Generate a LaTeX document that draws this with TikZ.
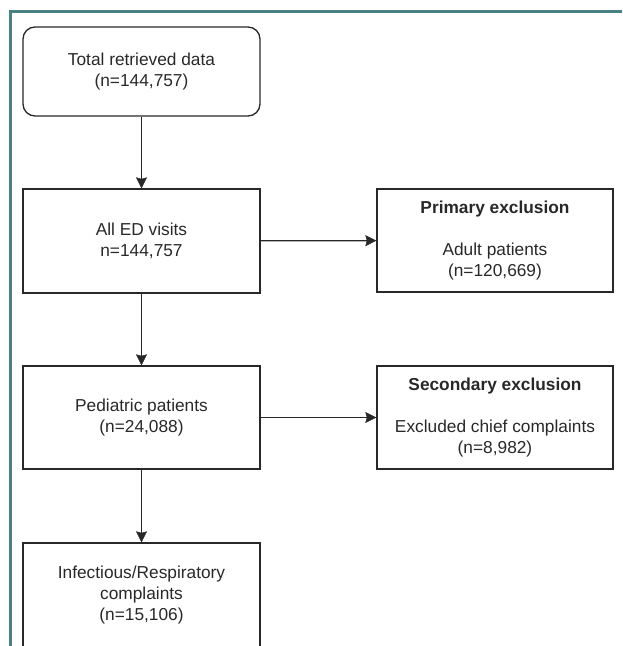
\documentclass[tikz,border=0pt]{standalone}
\usepackage{fontspec}
\setmainfont{Liberation Sans}
\usetikzlibrary{arrows.meta}
\definecolor{frameteal}{RGB}{72,130,130}
\definecolor{ink}{RGB}{40,40,40}
\begin{document}
\begin{tikzpicture}[x=1pt,y=-1pt,
  box/.style={draw=ink,line width=1.3pt,text=ink,align=center,
    font=\fontsize{17.3}{21}\selectfont,inner sep=0pt,
    minimum width=237pt,minimum height=104pt},
  arr/.style={draw=ink,line width=1.3pt,-{Stealth[length=11pt,width=11pt,inset=1.5pt,line width=0.5pt]}}]
\useasboundingbox (0,0) rectangle (622,646);
\draw[frameteal,line width=3pt] (10.5,646) -- (10.5,11.5) -- (622,11.5);
\node[box,rounded corners=12pt,minimum height=89pt] (top) at (141.5,71.5) {Total retrieved data\\(n=144,757)};
\node[box] (ed) at (141.5,241) {All ED visits\\n=144,757};
\node[box,minimum height=103pt] (ped) at (141.5,417.5) {Pediatric patients\\(n=24,088)};
\node[box] (inf) at (141.5,595) {Infectious/Respiratory\\complaints\\(n=15,106)};
\node[box,minimum width=236pt,minimum height=103pt] (prim) at (495,240.5) {\textbf{Primary exclusion}\\[21pt]Adult patients\\(n=120,669)};
\node[box,minimum width=236pt,minimum height=103pt] (sec) at (495,417.5) {\textbf{Secondary exclusion}\\[21pt]Excluded chief complaints\\(n=8,982)};
\draw[arr] (top) -- (ed);
\draw[arr] (ed) -- (ped);
\draw[arr] (ped) -- (inf);
\draw[arr] (ed) -- (prim);
\draw[arr] (ped) -- (sec);
\end{tikzpicture}
\end{document}
